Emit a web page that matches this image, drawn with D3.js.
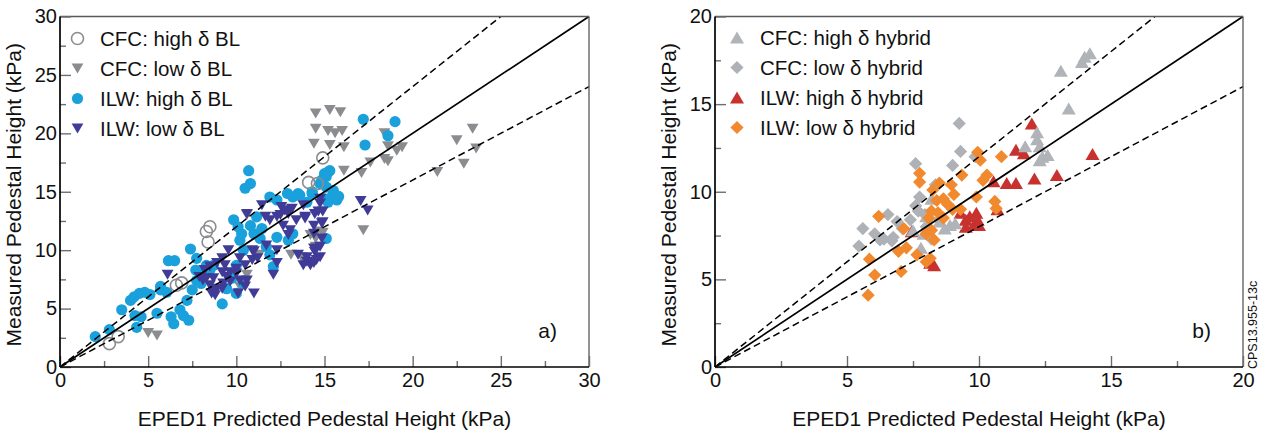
<!DOCTYPE html>
<html><head><meta charset="utf-8">
<script src="https://cdn.jsdelivr.net/npm/d3@7"></script>
<style>
html,body{margin:0;padding:0;background:#fff;}
svg{display:block;font-family:"Liberation Sans",Arial,Helvetica,sans-serif;}
</style></head><body>
<svg id="chart" width="1266" height="439"></svg>
<script>
// ---- Panel a: baseline (BL) discharges, [EPED1 predicted, measured] in kPa ----
const cfcHighBL = [[2.8,2.0],[3.3,2.6],[6.6,7.0],[6.9,7.2],[8.5,12.0],[8.3,11.6],[8.4,10.7],[14.9,17.9],[14.1,15.8],[14.6,15.7]];
const cfcLowBL = [[5.0,2.9],[5.5,2.7],[10.2,6.9],[10.6,7.9],[11.3,9.6],[10.6,13.0],[13.1,9.6],[13.7,9.4],[14.2,11.3],[14.5,11.0],[14.6,11.6],[14.9,11.5],[14.5,10.3],[13.8,9.2],[17.2,11.7],[14.5,21.7],[15.3,22.0],[15.9,21.8],[14.5,20.4],[15.2,20.2],[15.6,20.0],[16.0,20.2],[14.4,19.1],[15.3,19.0],[16.1,18.8],[18.4,20.0],[18.6,18.9],[19.1,18.5],[19.4,18.8],[17.6,17.5],[18.4,17.8],[18.6,17.6],[16.1,16.8],[17.1,16.6],[22.5,19.4],[23.4,20.4],[23.6,18.7],[22.9,17.4],[21.4,16.7]];
const ilwHighBL = [[2.0,2.6],[2.8,3.2],[3.5,4.9],[4.35,3.4],[4.0,5.7],[4.2,6.0],[4.5,6.3],[4.8,6.4],[5.1,6.2],[4.25,4.4],[4.6,4.3],[5.5,4.6],[5.7,6.9],[5.7,6.6],[6.05,6.4],[6.15,9.1],[6.5,9.1],[6.3,4.3],[6.45,3.7],[7.0,4.4],[7.3,4.0],[6.8,4.9],[7.2,5.7],[7.4,10.1],[7.5,6.6],[7.75,9.3],[7.7,8.3],[7.75,7.4],[8.0,7.15],[8.0,8.0],[8.2,7.9],[8.3,8.7],[8.5,8.3],[8.7,8.7],[9.2,5.4],[9.85,12.6],[10.1,12.0],[10.3,11.4],[10.2,10.85],[10.4,10.0],[10.0,8.7],[9.75,7.6],[9.45,6.7],[10.0,6.3],[10.4,7.15],[10.7,16.8],[10.5,15.3],[10.8,15.7],[10.8,12.1],[11.15,12.85],[11.0,11.4],[11.35,11.0],[11.7,10.3],[11.45,11.85],[11.9,14.55],[12.3,14.3],[12.1,8.6],[11.9,9.6],[12.9,14.85],[13.2,14.55],[13.5,14.85],[12.95,10.85],[13.2,11.4],[12.3,11.1],[14.0,14.1],[14.3,15.0],[14.75,15.7],[15.1,16.3],[15.1,15.4],[15.4,14.55],[15.0,14.4],[15.1,11.0],[15.3,16.8],[15.7,14.3],[15.2,16.7],[15.5,15.1],[15.8,14.6],[15.2,14.1],[14.85,16.0],[14.3,14.85],[13.6,14.7],[17.2,21.2],[19.0,21.0],[18.6,19.8],[17.3,19.0],[15.0,16.55]];
const ilwLowBL = [[6.1,7.9],[7.9,7.7],[8.1,7.4],[8.3,7.6],[8.2,8.3],[8.5,8.6],[8.7,7.6],[8.5,7.0],[8.9,6.7],[8.6,6.3],[8.7,6.6],[8.8,6.15],[9.2,6.7],[9.45,7.7],[9.25,7.15],[9.65,7.3],[10.2,7.4],[10.6,7.4],[10.5,6.9],[10.1,6.3],[11.0,6.3],[8.9,8.9],[9.2,9.3],[9.35,8.7],[9.2,8.1],[9.65,8.1],[10.0,8.0],[9.55,10.0],[10.0,8.4],[10.2,9.3],[10.5,8.7],[10.9,10.0],[10.9,9.15],[11.2,9.3],[11.0,9.9],[11.7,10.4],[12.3,10.0],[12.3,8.9],[12.1,7.9],[11.45,13.85],[11.65,12.85],[11.9,12.55],[12.3,12.85],[12.55,13.7],[12.75,13.4],[12.95,13.1],[13.15,13.55],[12.65,12.1],[13.05,11.7],[12.95,11.3],[13.4,12.55],[13.8,13.85],[13.9,12.85],[14.45,13.1],[14.85,12.3],[14.75,14.0],[14.75,14.4],[14.65,13.3],[14.85,11.0],[14.4,10.15],[14.0,9.0],[14.55,9.15],[14.2,8.7],[13.8,8.7],[13.5,9.6],[10.6,13.1],[12.5,13.0],[12.85,13.4],[14.4,11.4],[14.75,10.3],[14.0,9.4],[14.4,8.9],[14.75,9.4],[14.9,13.3],[14.9,12.4],[14.4,12.1],[13.9,12.7],[17.05,14.2],[17.45,13.4],[14.45,9.85]];

// ---- Panel b: hybrid discharges ----
const cfcHighHyb = [[14.2,17.9],[14.0,17.7],[13.9,17.4],[13.1,16.9],[13.4,14.75],[12.2,13.4],[12.2,13.0],[12.3,12.6],[12.6,12.1],[12.3,11.8],[11.75,12.6],[12.4,12.0],[8.9,8.1],[8.7,7.9],[7.8,6.8],[7.9,7.6],[7.5,7.8],[8.2,9.6],[8.5,8.3],[9.1,8.2],[8.0,8.6]];
const cfcLowHyb = [[5.45,6.9],[5.6,7.9],[6.05,7.6],[6.25,7.25],[6.4,7.3],[6.55,8.7],[6.7,7.2],[6.75,7.4],[6.9,8.3],[7.4,8.4],[7.6,9.2],[7.7,8.9],[7.95,8.7],[7.75,9.7],[8.35,10.4],[8.5,8.4],[7.6,11.6],[9.0,11.5],[9.25,13.9],[9.85,12.0],[9.3,12.3],[7.1,7.9],[8.2,7.3],[8.0,8.0]];
const ilwHighHyb = [[12.0,13.9],[11.4,12.4],[11.7,12.2],[14.3,12.15],[12.95,10.95],[12.1,10.75],[11.4,10.5],[11.05,10.5],[10.55,10.6],[10.7,9.0],[9.9,8.8],[9.5,8.4],[9.3,8.8],[9.8,8.1],[10.0,8.1],[9.65,8.6],[9.5,8.0],[7.45,7.75],[8.15,5.95],[8.3,5.8],[9.95,8.4]];
const ilwLowHyb = [[7.75,11.05],[6.2,8.6],[5.85,6.15],[6.05,5.25],[5.8,4.1],[7.05,5.45],[6.95,6.6],[7.25,6.8],[7.65,6.4],[8.0,6.0],[8.3,7.25],[7.15,7.9],[8.0,7.6],[8.2,7.8],[8.1,8.5],[8.2,8.9],[8.45,8.8],[8.65,8.5],[8.25,10.1],[8.4,9.5],[8.65,9.6],[8.8,9.3],[8.95,10.4],[8.5,10.5],[9.05,9.85],[9.0,9.0],[9.3,9.0],[9.35,10.95],[9.9,9.7],[9.95,12.25],[10.05,11.8],[10.15,10.65],[10.3,10.95],[10.85,12.0],[10.6,9.45],[10.65,9.05],[8.15,6.2],[7.75,10.55]];

// ---- axes ----
const ticksA = [0,5,10,15,20,25,30];
const minorA = [2.5,7.5,12.5,17.5,22.5,27.5];
const ticksB = [0,5,10,15,20];
const minorB = [2.5,7.5,12.5,17.5];
const refSlopes = [1, 1.2, 0.8];   // y = x and the +/-20 % band
const xTitle = "EPED1 Predicted Pedestal Height (kPa)";
const yTitle = "Measured Pedestal Height (kPa)";

const svg = d3.select("#chart");

function shapePath(kind) {
  switch (kind) {
    case "circle":  return (r => `M${r},0A${r},${r} 0 1,1 ${-r},0A${r},${r} 0 1,1 ${r},0Z`)(5.6);
    case "ring":    return (r => `M${r},0A${r},${r} 0 1,1 ${-r},0A${r},${r} 0 1,1 ${r},0Z`)(6.0);
    case "triDown": return (([w,h]) => `M${-w/2},${-h/2}L${w/2},${-h/2}L0,${h/2}Z`)([11.8,10]);
    case "triUp":   return (([w,h]) => `M0,${-h/2}L${w/2},${h/2}L${-w/2},${h/2}Z`)([14,12]);
    case "diamond": return (d => `M0,${-d}L${d},0L0,${d}L${-d},0Z`)(6.6);
  }
}

function drawPanel(p) {
  const x = d3.scaleLinear().domain([0, p.max]).range([p.left, p.right]);
  const y = d3.scaleLinear().domain([0, p.max]).range([p.bottom, p.top]);
  const g = svg.append("g");

  // markers
  p.series.forEach(s => {
    g.append("g").selectAll("path").data(s.data).join("path")
      .attr("transform", d => `translate(${x(d[0])},${y(d[1])})`)
      .attr("d", shapePath(s.shape))
      .attr("fill", s.fill)
      .attr("stroke", s.stroke || "none")
      .attr("stroke-width", s.sw || 0);
  });

  // reference lines
  const line = d3.line().x(d => x(d[0])).y(d => y(d[1]));
  refSlopes.forEach(k => {
    const xe = Math.min(p.max, p.max / k);
    g.append("path")
      .attr("d", line([[0, 0], [xe, k * xe]]))
      .attr("fill", "none").attr("stroke", "#000")
      .attr("stroke-width", k === 1 ? 1.7 : 1.5)
      .attr("stroke-dasharray", k === 1 ? null : "7,4");
  });

  // frame: light top/right, heavy left/bottom
  g.append("line").attr("x1", p.left).attr("x2", p.right).attr("y1", p.top).attr("y2", p.top)
    .attr("stroke", "#58595b").attr("stroke-width", 1.3);
  g.append("line").attr("x1", p.right).attr("x2", p.right).attr("y1", p.top).attr("y2", p.bottom)
    .attr("stroke", "#58595b").attr("stroke-width", 1.3);

  const styleAxis = sel => {
    sel.select(".domain").remove();
    sel.selectAll(".tick line").attr("stroke", "#6d6e71").attr("stroke-width", 1.4);
    sel.selectAll(".tick text").attr("font-size", 20).attr("fill", "#111")
      .attr("font-family", "'Liberation Sans',Arial,sans-serif");
  };
  g.append("g").attr("transform", `translate(0,${p.bottom})`)
    .call(d3.axisBottom(x).tickValues(p.minor).tickSize(-6).tickFormat("")).call(styleAxis);
  g.append("g").attr("transform", `translate(0,${p.bottom})`)
    .call(d3.axisBottom(x).tickValues(p.ticks).tickSize(-11).tickPadding(6).tickFormat(d3.format("d"))).call(styleAxis);
  g.append("g").attr("transform", `translate(${p.left},0)`)
    .call(d3.axisLeft(y).tickValues(p.minor).tickSize(-6).tickFormat("")).call(styleAxis);
  g.append("g").attr("transform", `translate(${p.left},0)`)
    .call(d3.axisLeft(y).tickValues(p.ticks).tickSize(-11).tickPadding(3).tickFormat(d3.format("d"))).call(styleAxis);

  g.append("line").attr("x1", p.left).attr("x2", p.right).attr("y1", p.bottom).attr("y2", p.bottom)
    .attr("stroke", "#000").attr("stroke-width", 1.7);
  g.append("line").attr("x1", p.left).attr("x2", p.left).attr("y1", p.top).attr("y2", p.bottom)
    .attr("stroke", "#000").attr("stroke-width", 1.7);

  // titles
  g.append("text").attr("x", (p.left + p.right) / 2).attr("y", 426)
    .attr("text-anchor", "middle").attr("font-size", 21).attr("fill", "#111").text(xTitle);
  g.append("text").attr("transform", `translate(${p.left - 39},${(p.top + p.bottom) / 2 + 3}) rotate(-90)`)
    .attr("text-anchor", "middle").attr("font-size", 21).attr("fill", "#111").text(yTitle);

  // panel tag
  g.append("text").attr("x", p.right - 32).attr("y", 338)
    .attr("text-anchor", "end").attr("font-size", 21).attr("fill", "#111").text(p.tag);

  // legend
  p.legendOrder.forEach((s, i) => {
    const cy = p.legY + i * 30;
    g.append("path").attr("transform", `translate(${p.legX},${cy})`)
      .attr("d", shapePath(s.shape)).attr("fill", s.fill)
      .attr("stroke", s.stroke || "none").attr("stroke-width", s.sw || 0);
    g.append("text").attr("x", p.legTextX).attr("y", cy + 7.5)
      .attr("font-size", 20.5).attr("fill", "#111").text(s.label);
  });
}

// series styles for panel a
const sA = {
  cfcHigh: {label: "CFC: high δ BL", data: cfcHighBL, shape: "ring", fill: "none", stroke: "#8a8c8f", sw: 1.6},
  cfcLow:  {label: "CFC: low δ BL",  data: cfcLowBL,  shape: "triDown", fill: "#8a8c8f"},
  ilwHigh: {label: "ILW: high δ BL", data: ilwHighBL, shape: "circle", fill: "#1aa1dc"},
  ilwLow:  {label: "ILW: low δ BL",  data: ilwLowBL,  shape: "triDown", fill: "#3f3b96"}
};
// series styles for panel b
const sB = {
  cfcHigh: {label: "CFC: high δ hybrid", data: cfcHighHyb, shape: "triUp", fill: "#b0b3b7"},
  cfcLow:  {label: "CFC: low δ hybrid",  data: cfcLowHyb,  shape: "diamond", fill: "#aeb1b5"},
  ilwHigh: {label: "ILW: high δ hybrid", data: ilwHighHyb, shape: "triUp", fill: "#c8322e"},
  ilwLow:  {label: "ILW: low δ hybrid",  data: ilwLowHyb,  shape: "diamond", fill: "#f1892f"}
};

drawPanel({
  max: 30, left: 60, right: 589, top: 16.5, bottom: 367,
  ticks: ticksA, minor: minorA, tag: "a)",
  series: [sA.cfcLow, sA.ilwHigh, sA.ilwLow, sA.cfcHigh],
  legendOrder: [sA.cfcHigh, sA.cfcLow, sA.ilwHigh, sA.ilwLow],
  legX: 77.5, legY: 38.5, legTextX: 100
});
drawPanel({
  max: 20, left: 715, right: 1243, top: 16.5, bottom: 367,
  ticks: ticksB, minor: minorB, tag: "b)",
  series: [sB.cfcLow, sB.ilwHigh, sB.cfcHigh, sB.ilwLow],
  legendOrder: [sB.cfcHigh, sB.cfcLow, sB.ilwHigh, sB.ilwLow],
  legX: 737, legY: 37.5, legTextX: 760
});

// figure reference code along the right edge
svg.append("text").attr("transform", "translate(1257,369) rotate(-90)")
  .attr("font-size", 12.5).attr("fill", "#111").text("CPS13.955-13c");
</script>
</body></html>
